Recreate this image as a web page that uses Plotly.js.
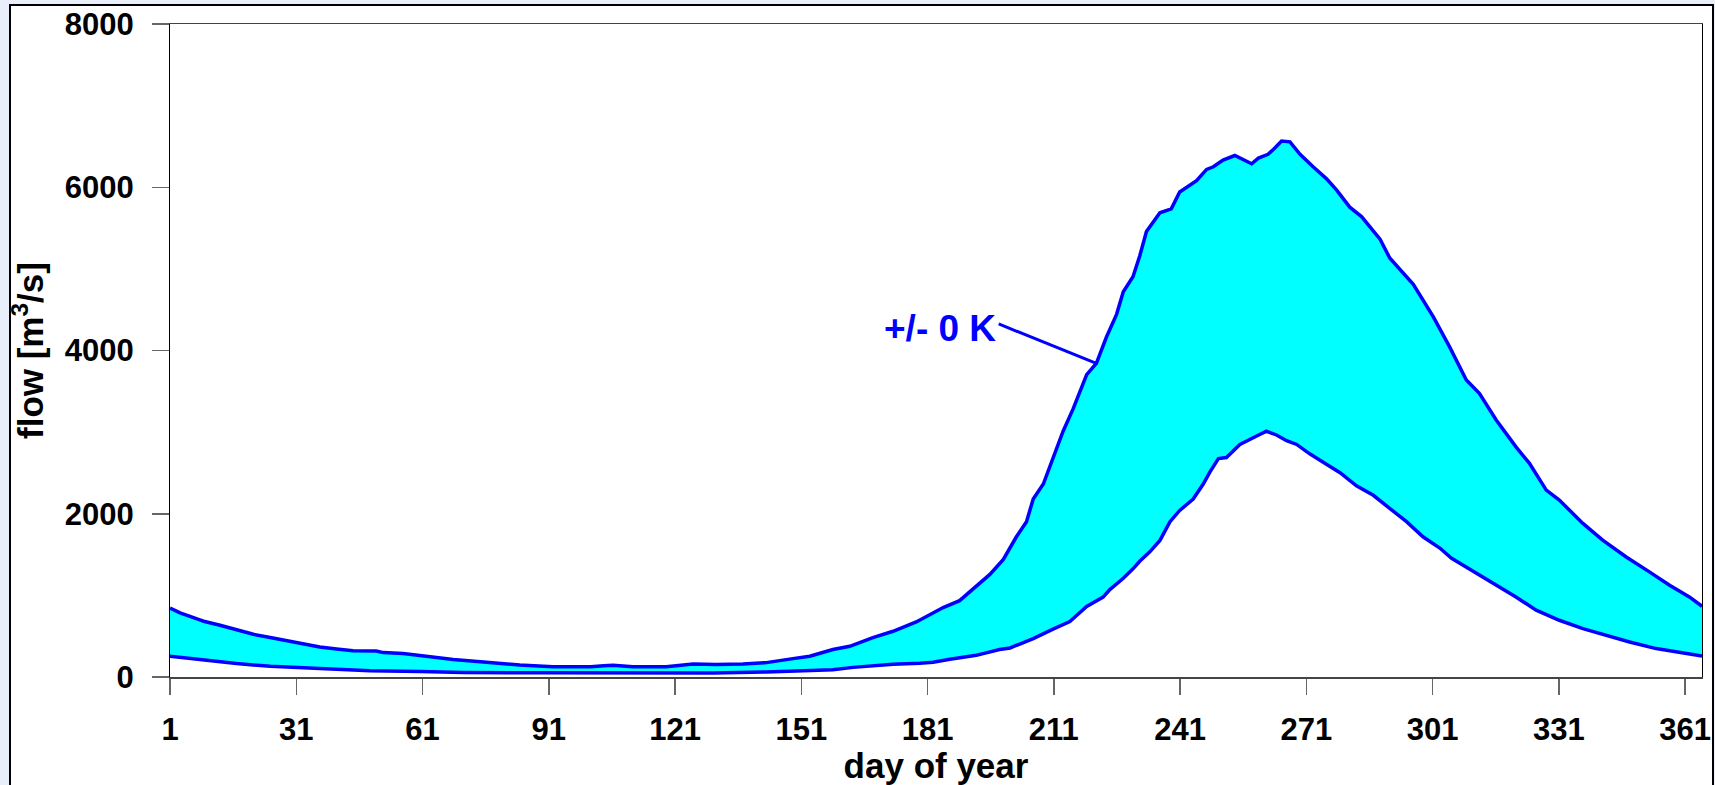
<!DOCTYPE html>
<html>
<head>
<meta charset="utf-8">
<script src="https://cdn.plot.ly/plotly-3.0.1.min.js"></script>
<style>
  html, body { margin: 0; padding: 0; width: 1715px; height: 785px; overflow: hidden; background: #E9EEFB; }
  #frame { position: absolute; left: 9px; top: 4px; width: 1701px; height: 900px; border: 2px solid #000; background: #fff; }
  #chart { position: absolute; left: 0; top: 0; width: 1715px; height: 785px; }
</style>
</head>
<body>
<div id="frame"></div>
<div id="chart"></div>
<script>
// ---- data ----
const upperDays = [1, 3.4, 8.1, 9, 12.9, 16.8, 20.8, 24.8, 31.1, 36.6, 40.6, 44.5, 50, 51.7, 56.4, 61.2, 68.3, 76.2, 84.1, 92, 98.4, 101, 104, 106.3, 111, 118.9, 125.3, 130.8, 137.1, 142.7, 149, 153, 158.5, 162.5, 168, 172.8, 178.3, 184.7, 188.6, 191.8, 195.8, 199, 202.1, 204.5, 206.1, 208.5, 210.8, 213.2, 215.6, 218.8, 221.1, 223.5, 225.9, 227.5, 229.8, 231.4, 233, 236.2, 238.9, 240.9, 244.9, 247.3, 248.9, 251.2, 254, 256, 258, 259.6, 261.9, 263.5, 265.1, 267.1, 269.5, 272.6, 275.8, 278.2, 281.3, 284.1, 288.5, 290.8, 296.4, 301.1, 305, 309, 312.1, 316.1, 320.8, 324, 328, 331.1, 336.7, 341.4, 347, 352.5, 357.3, 362, 365];
const upperFlow = [846, 785, 700, 683, 634, 581, 523, 483, 422, 368, 343, 323, 319, 299, 287, 254, 213, 180, 147, 127, 118, 125, 138, 143, 125, 127, 160, 152, 160, 176, 225, 254, 336, 376, 483, 560, 674, 851, 935, 1072, 1257, 1441, 1718, 1903, 2180, 2364, 2688, 3011, 3288, 3704, 3842, 4165, 4443, 4720, 4903, 5157, 5457, 5688, 5735, 5942, 6080, 6219, 6251, 6334, 6389, 6334, 6288, 6357, 6403, 6481, 6565, 6556, 6403, 6251, 6103, 5964, 5756, 5641, 5364, 5134, 4811, 4419, 4047, 3638, 3475, 3148, 2820, 2617, 2289, 2167, 1881, 1676, 1471, 1288, 1125, 981, 867];

const lowerDays = [1, 8.9, 16.8, 24.8, 31.1, 40.6, 48.5, 60.4, 70.7, 90, 110, 130, 142.7, 150.6, 158.5, 163.3, 172.8, 179.1, 182.3, 186.3, 188.6, 192.6, 194.2, 198.1, 200.6, 206.1, 210.8, 214.8, 218.8, 222.7, 224.3, 227.5, 229.8, 231.4, 233.8, 236.2, 238.6, 240.9, 244.1, 246.5, 248.1, 250.1, 252, 255.2, 259.2, 261.5, 263.9, 266.3, 268.7, 271.8, 275, 279, 282.9, 286.9, 290.8, 294.8, 298.7, 302.7, 305.5, 308.2, 310.5, 316.1, 320.8, 325.6, 331.1, 336.7, 342.2, 347.8, 354.1, 360.4, 365];
const lowerFlow = [254, 205, 164, 131, 115, 94, 78, 66, 55, 52, 50, 50, 61, 74, 90, 118, 156, 168, 180, 218, 233, 266, 286, 336, 356, 471, 587, 679, 864, 979, 1071, 1210, 1325, 1418, 1534, 1673, 1903, 2041, 2180, 2364, 2513, 2676, 2688, 2849, 2952, 3011, 2965, 2895, 2849, 2734, 2632, 2503, 2342, 2226, 2065, 1903, 1718, 1580, 1455, 1370, 1308, 1125, 981, 818, 695, 593, 511, 429, 348, 294, 257];

const xTickVals = [1, 31, 61, 91, 121, 151, 181, 211, 241, 271, 301, 331, 361];
const yTickVals = [0, 2000, 4000, 6000, 8000];

const labelText = "+/- 0 K";
const labelPos = {x: 197.8, y: 4264};
const leaderFrom = {x: 197.9, y: 4325};
const leaderTo = {x: 221.1, y: 3842};

// ---- chart ----
const FONT = "'Liberation Sans', Arial, sans-serif";
const BLUE = "#0000FF";

const traces = [
  {x: lowerDays, y: lowerFlow, type: "scatter", mode: "lines",
   line: {color: BLUE, width: 3.5, shape: "linear"}, hoverinfo: "skip", showlegend: false},
  {x: upperDays, y: upperFlow, type: "scatter", mode: "lines",
   fill: "tonexty", fillcolor: "#00FFFF",
   line: {color: BLUE, width: 3.5, shape: "linear"}, hoverinfo: "skip", showlegend: false}
];

const layout = {
  width: 1715, height: 785,
  margin: {l: 170, r: 13, t: 24, b: 108, pad: 0},
  paper_bgcolor: "rgba(0,0,0,0)",
  plot_bgcolor: "#FFFFFF",
  font: {family: FONT, color: "#000", size: 31, weight: "bold"},
  showlegend: false,
  xaxis: {
    range: [1, 365], autorange: false,
    tickmode: "array", tickvals: xTickVals, ticktext: xTickVals.map(String),
    ticks: "outside", ticklen: 16, tickwidth: 1.5, tickcolor: "#666",
    showline: true, mirror: true, linecolor: "#444", linewidth: 1.5,
    showgrid: false, zeroline: false,
    tickfont: {family: FONT, size: 31, color: "#000", weight: "bold"},
    ticklabelstandoff: 8,
    title: {text: "day of year", font: {family: FONT, size: 35, color: "#000", weight: "bold"}, standoff: 6},
    automargin: false
  },
  yaxis: {
    range: [0, 8000], autorange: false,
    tickmode: "array", tickvals: yTickVals, ticktext: yTickVals.map(String),
    ticks: "outside", ticklen: 17, tickwidth: 1.5, tickcolor: "#666",
    showline: true, mirror: true, linecolor: "#000", linewidth: 1,
    showgrid: false, zeroline: false,
    tickfont: {family: FONT, size: 31, color: "#000", weight: "bold"},
    ticklabelstandoff: 12,
    title: {text: "flow [m<sup>3</sup>/s]", font: {family: FONT, size: 35, color: "#000", weight: "bold"}, standoff: 10},
    automargin: false
  },
  shapes: [
    {type: "line", xref: "x", yref: "y", x0: leaderFrom.x, y0: leaderFrom.y, x1: leaderTo.x, y1: leaderTo.y,
     line: {color: BLUE, width: 3}}
  ],
  annotations: [
    {x: labelPos.x, y: labelPos.y, xref: "x", yref: "y", text: labelText, showarrow: false,
     xanchor: "right", yanchor: "middle",
     font: {family: FONT, size: 37, color: BLUE, weight: "bold"}}
  ]
};

Plotly.newPlot("chart", traces, layout, {displayModeBar: false, staticPlot: true});
</script>
</body>
</html>
